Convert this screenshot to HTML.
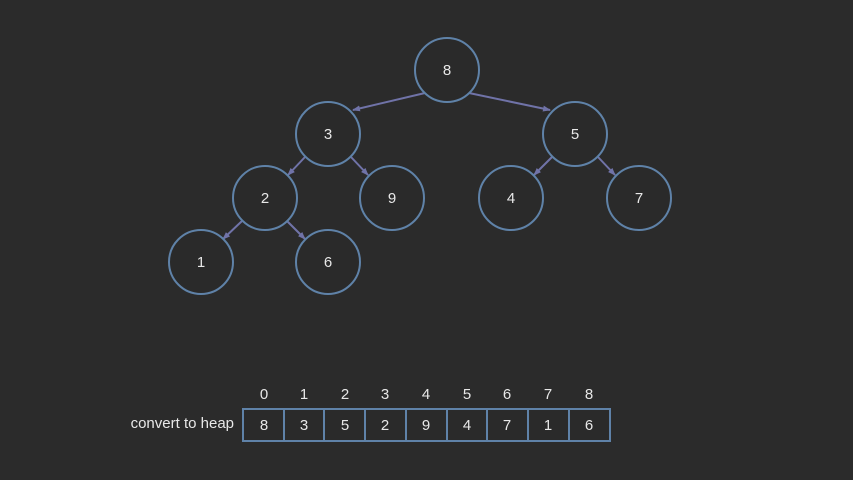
<!DOCTYPE html>
<html><head><meta charset="utf-8"><style>
html,body{margin:0;padding:0;background:#2b2b2b;}
svg{display:block}
text{font-family:"Liberation Sans",sans-serif;fill:#e8e8e8;font-size:15px;}
</style></head><body>
<svg width="853" height="480" viewBox="0 0 853 480">
<defs><marker id="a" markerWidth="8" markerHeight="8" refX="7" refY="4" orient="auto" markerUnits="userSpaceOnUse"><path d="M0,1 L8,4 L0,7 Z" fill="#7073a8"/></marker></defs>
<rect width="853" height="480" fill="#2b2b2b"/>
<g stroke="#7073a8" stroke-width="2" marker-end="url(#a)">
<line x1="425" y1="93" x2="353" y2="110"/>
<line x1="469" y1="93" x2="550" y2="110"/>
<line x1="305" y1="157" x2="288" y2="175"/>
<line x1="351" y1="157" x2="368" y2="175"/>
<line x1="242" y1="221" x2="223" y2="239"/>
<line x1="287" y1="221" x2="305" y2="239"/>
<line x1="552" y1="157" x2="534" y2="175"/>
<line x1="598" y1="157" x2="615" y2="175"/>
</g>
<g fill="#2a2a2a" stroke="#5f82a8" stroke-width="2">
<circle cx="447" cy="70" r="32"/><circle cx="328" cy="134" r="32"/><circle cx="575" cy="134" r="32"/>
<circle cx="265" cy="198" r="32"/><circle cx="392" cy="198" r="32"/><circle cx="511" cy="198" r="32"/>
<circle cx="639" cy="198" r="32"/><circle cx="201" cy="262" r="32"/><circle cx="328" cy="262" r="32"/>
</g>
<g text-anchor="middle">
<text x="447" y="75">8</text><text x="328" y="139">3</text><text x="575" y="139">5</text>
<text x="265" y="203">2</text><text x="392" y="203">9</text><text x="511" y="203">4</text>
<text x="639" y="203">7</text><text x="201" y="267">1</text><text x="328" y="267">6</text>
</g>
<text x="234" y="428" text-anchor="end">convert to heap</text>
<g fill="#2a2a2a" stroke="#5f82a8" stroke-width="2">
<rect x="243" y="409" width="367" height="32"/>
<line x1="284" y1="409" x2="284" y2="441"/><line x1="324" y1="409" x2="324" y2="441"/>
<line x1="365" y1="409" x2="365" y2="441"/><line x1="406" y1="409" x2="406" y2="441"/>
<line x1="447" y1="409" x2="447" y2="441"/><line x1="487" y1="409" x2="487" y2="441"/>
<line x1="528" y1="409" x2="528" y2="441"/><line x1="569" y1="409" x2="569" y2="441"/>
</g>
<g text-anchor="middle">
<text x="264" y="399">0</text><text x="304" y="399">1</text><text x="345" y="399">2</text><text x="385" y="399">3</text><text x="426" y="399">4</text><text x="467" y="399">5</text><text x="507" y="399">6</text><text x="548" y="399">7</text><text x="589" y="399">8</text>
<text x="264" y="430">8</text><text x="304" y="430">3</text><text x="345" y="430">5</text><text x="385" y="430">2</text><text x="426" y="430">9</text><text x="467" y="430">4</text><text x="507" y="430">7</text><text x="548" y="430">1</text><text x="589" y="430">6</text>
</g>
</svg>
</body></html>
